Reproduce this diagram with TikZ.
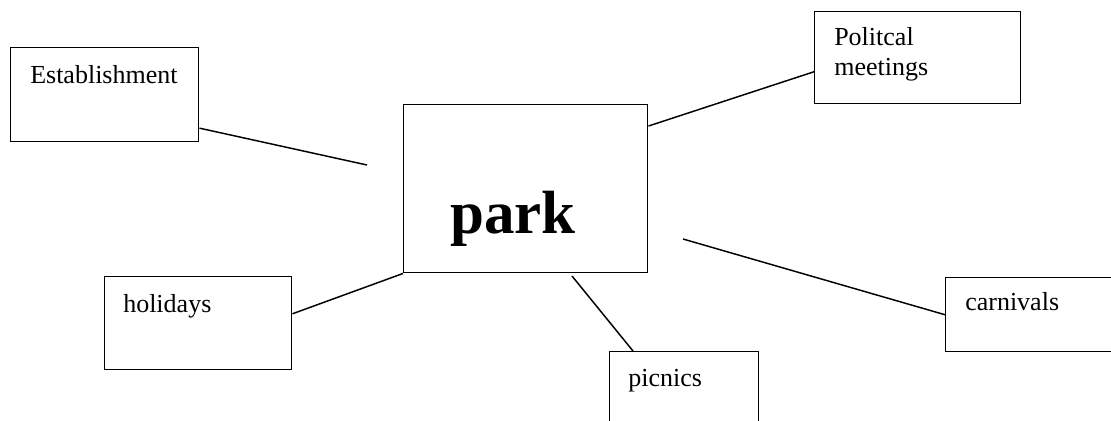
\documentclass[tikz,border=0pt]{standalone}
\usepackage{fontspec}
\setmainfont{Liberation Serif}
\usetikzlibrary{calc}

\tikzset{
	box/.style 2 args={draw, line width=1.1pt, inner sep=0, anchor=north west,
		minimum width=#1*0.75pt, minimum height=#2*0.75pt},
	word/.style={anchor=base west, inner sep=0, align=left,
		font=\fontsize{19.5}{22.5}\selectfont},
	link/.style={line width=1.1pt}
}

\begin{document}
\begin{tikzpicture}[x=0.75pt, y=-0.75pt]
			%%%%% START %%%%%
			\useasboundingbox (0,0) rectangle (1111,421);
			
			% boxes
			\node[box={244}{168}] (park) at (403,104) {};
			\node[box={188}{94}] (estab) at (10,47) {};
			\node[box={206}{92}] (polit) at (814,11) {};
			\node[box={187}{93}] (holid) at (104,276) {};
			\node[box={149}{90}] (picnic) at (609,351) {};
			\node[box={172}{74}] (carniv) at (945,277) {};
			
			% texts
			\node[word, font=\fontsize{45.75}{50}\selectfont\bfseries] (parkText) at (450,233) {park};
			\node[word] (estabText) at (30,83) {Establishment};
			\node[word] (politText) at (834,75) {Politcal\\meetings};
			\node[word] (holidText) at (123,312) {holidays};
			\node[word] (picnicText) at (628,386) {picnics};
			\node[word] (carnivText) at (965,310) {carnivals};
			
			% loose ends
			\coordinate (estabEnd) at (367,165);
			\coordinate (picnicEnd) at (572,276);
			\coordinate (carnivEnd) at (683,239);
			
			% connectors
			\draw[link] ($(estab.north east)!0.85!(estab.south east)$) -- (estabEnd);
			\draw[link] ($(park.north east)!0.13!(park.south east)$) -- ($(polit.north west)!0.65!(polit.south west)$);
			\draw[link] ($(holid.north east)!0.4!(holid.south east)$) -- (park.south west);
			\draw[link] (picnicEnd) -- ($(picnic.north west)+(24,0)$);
			\draw[link] (carnivEnd) -- (carniv.west);
			
			%%%%% END %%%%%
\end{tikzpicture}
\end{document}
